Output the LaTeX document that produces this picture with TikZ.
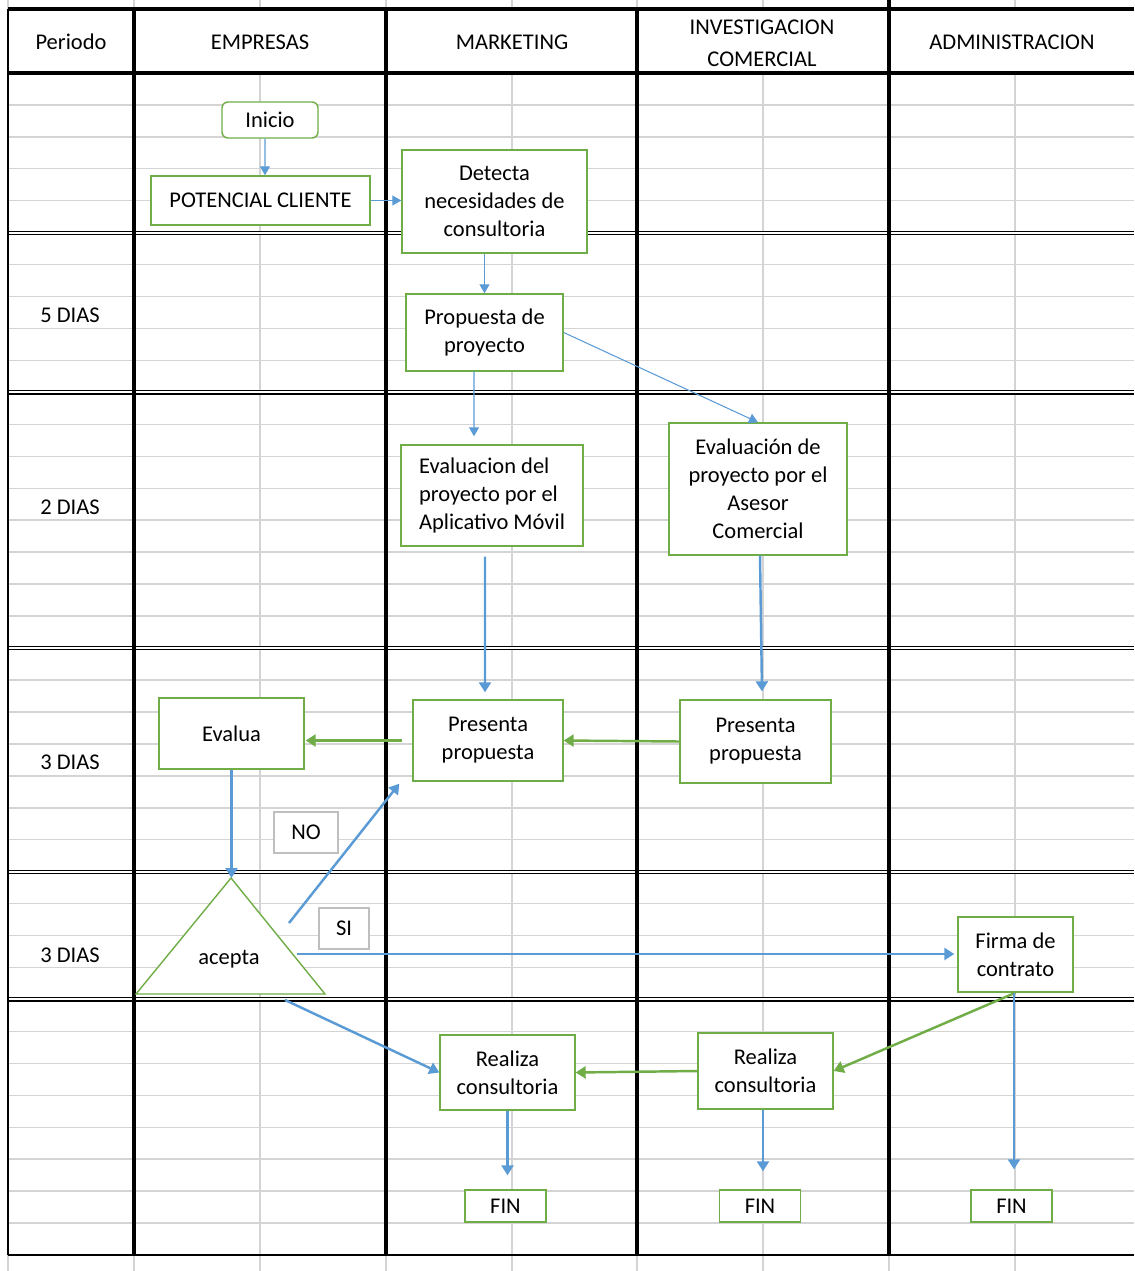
\documentclass[tikz,border=0pt]{standalone}
\usepackage{fontspec}
\setmainfont{Carlito}
\usetikzlibrary{arrows.meta}
\definecolor{laneGrid}{RGB}{212,212,212}
\definecolor{flowBlue}{RGB}{91,155,213}
\definecolor{flowGreen}{RGB}{112,173,71}
\definecolor{noteGray}{RGB}{191,191,191}

\begin{document}
\begin{tikzpicture}[
    x=0.02cm, y=-0.02cm,
    font=\fontsize{12.8}{15.9}\selectfont,
    grid line/.style={laneGrid, line width=0.85pt},
    lane line/.style={black, line width=2.2pt},
    period line/.style={black, line width=0.65pt, double=white, double distance=1.1pt},
    flow box/.style={draw=flowGreen, line width=0.8pt, fill=white,
        inner sep=0pt, align=center},
    note box/.style={draw=noteGray, line width=0.8pt, fill=white, inner sep=0pt},
    thin flow/.style={flowBlue, line width=0.6pt,
        -{Triangle[length=0.18cm, width=0.2cm]}},
    blue flow/.style={flowBlue, line width=1.4pt,
        -{Triangle[length=0.2cm, width=0.24cm]}},
    green flow/.style={flowGreen, line width=1.4pt,
        -{Triangle[length=0.2cm, width=0.24cm]}},
]

% ---- layout parameters ----
\def\rowH{31.95}    % spreadsheet row height (px)
\def\yTop{9}        % top of the sheet
\def\yHead{73}      % bottom of the header row
\def\xL{8}          % left border
\def\xR{1134}       % right edge

\pgfmathsetmacro{\yBot}{\yTop+39*\rowH}

\useasboundingbox (0,0) rectangle (1134,1271);
\clip (0,0) rectangle (1134,1271);

% ---- spreadsheet grid ----
\foreach \x in {8,134,260,386,512,637,763,889,1015}
    \draw[grid line] (\x,0) -- (\x,1271);
\foreach \k in {3,...,38} {
    \pgfmathsetmacro{\yk}{\yTop+\k*\rowH}
    \draw[grid line] (\xL,\yk) -- (\xR,\yk);
}
% merged header cells
\fill[white] (\xL,\yTop) rectangle (\xR,\yHead);

% period borders (double)
\foreach \k in {7,12,20,27,31} {
    \pgfmathsetmacro{\yk}{\yTop+\k*\rowH}
    \draw[period line] (\xL,\yk) -- (\xR,\yk);
}

% lane borders
\foreach \x in {134,386,637,889}
    \draw[lane line] (\x,\yTop) -- (\x,\yBot);
\draw[lane line] (889,0) -- (889,\yTop);
\draw[black, line width=1.1pt] (\xL,\yTop) -- (\xL,\yBot);
\draw[lane line] (\xL,\yTop) -- (\xR,\yTop);
\draw[lane line] (\xL,\yHead) -- (\xR,\yHead);
\draw[black, line width=1.3pt] (\xL,\yBot) -- (\xR,\yBot);

% ---- header ----
\node (hPeriodo)  at (71,42)   {Periodo};
\node (hEmpresas) at (260,42)  {EMPRESAS};
\node (hMarket)   at (512,42)  {MARKETING};
\node[align=center] (hInvest) at (762,43) {INVESTIGACION\\[2.2pt]COMERCIAL};
\node (hAdmin)    at (1012,42) {ADMINISTRACION};

% ---- period labels ----
\node (pCinco) at (70,315) {5 DIAS};
\node (pDos)   at (70,507) {2 DIAS};
\node (pTres)  at (70,762) {3 DIAS};
\node (pTresB) at (70,955) {3 DIAS};

% ======== EMPRESAS ========
\node[flow box, rounded corners=0.12cm, minimum width=1.92cm, minimum height=0.72cm]
    (inicio) at (270,120) {Inicio};
\node[flow box, minimum width=4.38cm, minimum height=0.98cm]
    (potencial) at (260.5,200.5) {POTENCIAL CLIENTE};
\node[flow box, minimum width=2.9cm, minimum height=1.42cm]
    (evalua) at (231.5,733.5) {Evalua};
\node[note box, minimum width=1.28cm, minimum height=0.82cm]
    (no) at (306,832.5) {NO};
\node[note box, minimum width=1cm, minimum height=0.82cm]
    (si) at (344,928.5) {SI};

% decision triangle
\coordinate (aApex)  at (231,878);
\coordinate (aLeft)  at (136,994);
\coordinate (aRight) at (325,994);
\draw[flowGreen, line width=0.8pt, fill=white] (aApex) -- (aRight) -- (aLeft) -- cycle;
\node (acepta) at (229,959) {acepta};
\coordinate (aNo)   at (289,923);
\coordinate (aSi)   at (297,954);
\coordinate (aBase) at (285,1000);

% ======== MARKETING ========
\node[flow box, minimum width=3.7cm, minimum height=2.06cm]
    (detecta) at (494.5,201.5) {Detecta\\necesidades de\\consultoria};
\node[flow box, minimum width=3.14cm, minimum height=1.54cm]
    (propuesta) at (484.5,332.5) {Propuesta de\\proyecto};
\node[flow box, align=left, minimum width=3.64cm, minimum height=2.02cm]
    (evalApp) at (492,495.5) {Evaluacion del\\proyecto por el\\Aplicativo Móvil};
\node[flow box, minimum width=3cm, minimum height=1.62cm]
    (presentaM) at (488,740.5) {Presenta\\propuesta};
\node[flow box, minimum width=2.7cm, minimum height=1.5cm]
    (realizaM) at (507.5,1072.5) {Realiza\\consultoria};
\node[flow box, minimum width=1.62cm, minimum height=0.64cm]
    (finM) at (505.5,1206) {FIN};

% ======== INVESTIGACION COMERCIAL ========
\node[flow box, minimum width=3.56cm, minimum height=2.64cm]
    (evalAsesor) at (758,489) {Evaluación de\\proyecto por el\\Asesor\\Comercial};
\node[flow box, minimum width=3.02cm, minimum height=1.66cm]
    (presentaI) at (755.5,741.5) {Presenta\\propuesta};
\node[flow box, minimum width=2.7cm, minimum height=1.52cm]
    (realizaI) at (765.5,1071) {Realiza\\consultoria};
\node[flow box, minimum width=1.62cm, minimum height=0.64cm]
    (finI) at (760,1206) {FIN};

% ======== ADMINISTRACION ========
\node[flow box, minimum width=2.3cm, minimum height=1.5cm]
    (firma) at (1015.5,954.5) {Firma de\\contrato};
\node[flow box, minimum width=1.62cm, minimum height=0.64cm]
    (finA) at (1011.5,1206) {FIN};

% ---- thin connectors ----
\draw[thin flow] ([xshift=-0.1cm]inicio.south) -- ([xshift=0.09cm]potencial.north);
\draw[thin flow] (potencial.east) -- (potencial.east -| detecta.west);
\draw[thin flow] (detecta.south -| propuesta.north) -- (propuesta.north);
\draw[thin flow] ([xshift=-0.21cm]propuesta.south)
    -- ([xshift=-0.36cm, yshift=0.16cm]evalApp.north);
\draw[thin flow] (propuesta.east) -- (evalAsesor.north);

% ---- thick connectors ----
\draw[blue flow] ([xshift=-0.14cm, yshift=-0.2cm]evalApp.south)
    -- ([xshift=-0.06cm, yshift=0.14cm]presentaM.north);
\draw[blue flow] ([xshift=0.04cm]evalAsesor.south)
    -- ([xshift=0.13cm, yshift=0.16cm]presentaI.north);
\draw[green flow] (presentaI.west) -- (presentaM.east);
\draw[green flow] ([xshift=-0.2cm]presentaM.west)
    -- ([xshift=0.02cm]presentaM.west -| evalua.east);
\draw[blue flow] (evalua.south) -- (evalua.south |- aApex);
\draw[blue flow] (aNo) -- ([xshift=-0.26cm, yshift=-0.04cm]presentaM.south west);
\draw[blue flow] (aSi) -- ([xshift=-0.06cm]aSi -| firma.west);
\draw[blue flow] (aBase) -- (realizaM.west);
\draw[green flow] (firma.south) -- (realizaI.east);
\draw[blue flow] ([xshift=-0.03cm]firma.south)
    -- ([xshift=-0.03cm, yshift=0.4cm]firma.south |- finA.north);
\draw[green flow] (realizaI.west) -- (realizaM.east);
\draw[blue flow] (realizaM.south) -- ([yshift=0.28cm]realizaM.south |- finM.north);
\draw[blue flow] ([xshift=-0.05cm]realizaI.south)
    -- ([xshift=-0.05cm, yshift=0.36cm]realizaI.south |- finI.north);

\end{tikzpicture}
\end{document}
